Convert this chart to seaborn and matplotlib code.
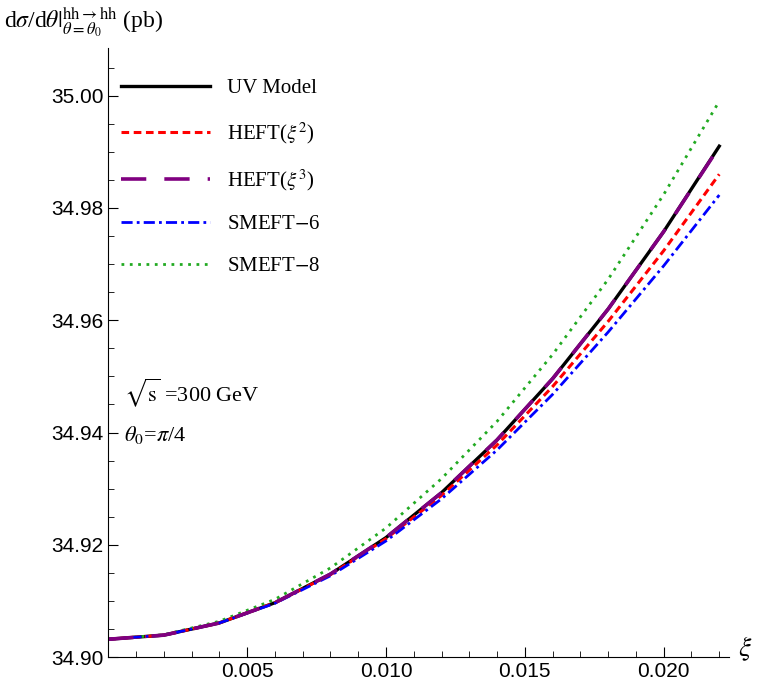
import matplotlib
matplotlib.use("Agg")
import matplotlib.pyplot as plt
import seaborn as sns
import pandas as pd
from matplotlib.ticker import MultipleLocator, FormatStrFormatter

xi = [0, .002, .004, .006, .008, .010, .012, .014, .016, .018, .020, .022]
base = 34.9032
uv = [0, .00073, .0029, .0065, .0116, .0181, .0261, .0355, .0464, .0588, .0726, .0878]
heft2 = [0, .00073, .0029, .0065, .0115, .0179, .0256, .0346, .0450, .0566, .0692, .0828]
heft3 = [0, .00073, .0029, .0065, .0116, .0181, .0261, .0355, .0464, .0588, .0726, .0877]
smeft6 = [0, .00073, .0029, .0064, .0113, .0175, .0250, .0337, .0436, .0547, .0665, .0791]
smeft8 = [0, .0008, .0032, .0071, .0127, .0198, .0286, .0388, .0507, .0641, .0792, .0958]
names = ["UV Model", r"HEFT($\xi^2$)", r"HEFT($\xi^3$)", "SMEFT$-$6", "SMEFT$-$8"]

series = [uv, heft2, heft3, smeft6, smeft8]
rows = []
for n, s in zip(names, series):
    for x, d in zip(xi, s):
        rows.append({"xi": x, "val": base + d, "model": n})
df = pd.DataFrame(rows)

styles = {
    names[0]: dict(color="black", ls="-", lw=2.4),
    names[1]: dict(color="red", ls=(0, (2.5, 1.5)), lw=2.2),
    names[2]: dict(color="purple", ls=(0, (7, 5)), lw=2.6),
    names[3]: dict(color="blue", ls=(0, (4, 1.5, 1, 1.5)), lw=2.0),
    names[4]: dict(color="#22aa22", ls=(0, (1, 2)), lw=2.0),
}

plt.rcParams["mathtext.fontset"] = "stix"
fig = plt.figure(figsize=(7.57, 6.94), dpi=100)
ax = fig.add_axes([0.143, 0.053, 0.82, 0.878])

handles = {}
for n in [names[0], names[4], names[1], names[3], names[2]]:
    sub = df[df["model"] == n]
    sns.lineplot(data=sub, x="xi", y="val", ax=ax, label=n, **styles[n])
    handles[n] = ax.get_lines()[-1]

ax.set_xlim(0, 0.02235)
ax.set_ylim(34.9025, 35.0085)
ax.spines["top"].set_visible(False)
ax.spines["right"].set_visible(False)
ax.xaxis.set_major_locator(MultipleLocator(0.005))
ax.xaxis.set_minor_locator(MultipleLocator(0.001))
ax.yaxis.set_major_locator(MultipleLocator(0.02))
ax.yaxis.set_minor_locator(MultipleLocator(0.005))
ax.xaxis.set_major_formatter(FormatStrFormatter("%.3f"))
ax.yaxis.set_major_formatter(FormatStrFormatter("%.2f"))
ax.set_xticks([0.005, 0.010, 0.015, 0.020])
ax.set_yticks([34.90, 34.92, 34.94, 34.96, 34.98, 35.00])
ax.tick_params(which="both", direction="in", labelsize=15)
ax.tick_params(which="major", length=7)
ax.tick_params(which="minor", length=4)
for lab in ax.get_xticklabels() + ax.get_yticklabels():
    lab.set_fontfamily("Liberation Sans")
ax.set_xlabel("")
ax.set_ylabel("")

leg = ax.legend([handles[n] for n in names], names, loc="upper left",
                bbox_to_anchor=(-0.01, 0.98), frameon=False, handlelength=4.3,
                labelspacing=1.05, prop={"family": "Liberation Serif", "size": 15})

ax.text(0.025, 0.42, r"$\sqrt{\mathrm{s}}$ =300 GeV", transform=ax.transAxes,
        fontsize=16, family="Liberation Serif")
ax.text(0.025, 0.355, r"$\theta_0$=$\pi$/4", transform=ax.transAxes,
        fontsize=16, family="Liberation Serif")
fig.text(0.005, 0.96,
         r"d$\sigma$/d$\theta|^{\mathrm{hh}\rightarrow\mathrm{hh}}_{\theta=\theta_0}$ (pb)",
         fontsize=17, family="Liberation Serif")
fig.text(0.975, 0.055, r"$\xi$", fontsize=20)

fig.savefig("out.png", dpi=100)
